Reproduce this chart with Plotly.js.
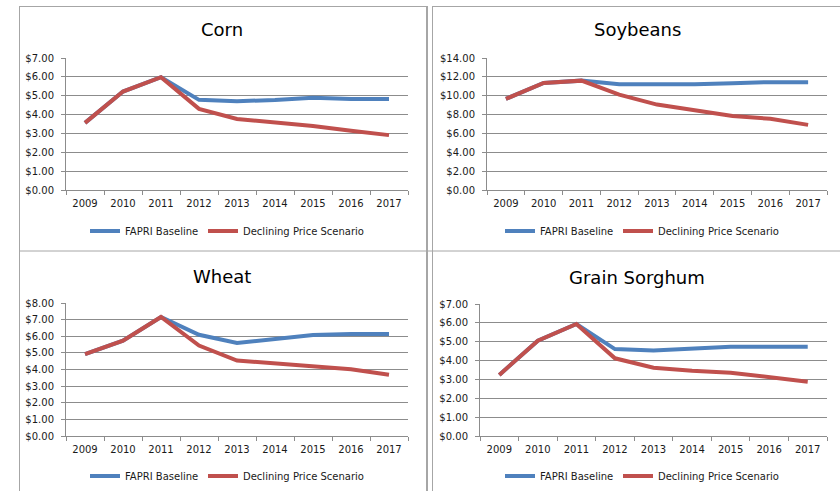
<!DOCTYPE html>
<html>
<head>
<meta charset="utf-8">
<script src="https://cdn.plot.ly/plotly-3.0.1.min.js"></script>
<style>
  html, body { margin: 0; padding: 0; background: #ffffff; }
  #chart { width: 840px; height: 491px; }
</style>
</head>
<body>
<div id="chart"></div>
<script>
// Crop price projections, 2009-2017 ($ per bushel)
const years = ['2009', '2010', '2011', '2012', '2013', '2014', '2015', '2016', '2017'];

const cornBaseline     = [3.56, 5.22, 5.98, 4.78, 4.71, 4.77, 4.89, 4.83, 4.83];
const cornDeclining    = [3.56, 5.22, 5.98, 4.30, 3.77, 3.58, 3.39, 3.14, 2.91];

const soyBaseline      = [9.66, 11.35, 11.60, 11.22, 11.22, 11.22, 11.33, 11.44, 11.44];
const soyDeclining     = [9.66, 11.35, 11.60, 10.12, 9.06, 8.46, 7.86, 7.55, 6.91];

const wheatBaseline    = [4.92, 5.73, 7.16, 6.09, 5.60, 5.83, 6.07, 6.13, 6.13];
const wheatDeclining   = [4.92, 5.73, 7.16, 5.44, 4.54, 4.35, 4.19, 4.01, 3.69];

const sorghumBaseline  = [3.24, 5.05, 5.94, 4.61, 4.54, 4.61, 4.73, 4.73, 4.73];
const sorghumDeclining = [3.24, 5.05, 5.94, 4.12, 3.62, 3.46, 3.36, 3.10, 2.88];

const panelTitles = ['Corn', 'Soybeans', 'Wheat', 'Grain Sorghum'];
const seriesNames = ['FAPRI Baseline', 'Declining Price Scenario'];

const W = 840, H = 491;
const px = x => x / W;
const py = y => 1 - y / H;

const BLUE = '#4f81bd';
const RED = '#c0504d';
const GRID = '#8c8c8c';
const FRAME = '#a6a6a6';
const FONT = 'DejaVu Sans, Verdana, sans-serif';

// panel geometry in pixels: plot box and legend/title anchors
const panels = [
  { base: cornBaseline,    decl: cornDeclining,    ymax: 7,  dtick: 1, box: [66, 408, 58, 190],  title: [222, 30],  legend: [85, 231] },
  { base: soyBaseline,     decl: soyDeclining,     ymax: 14, dtick: 2, box: [487, 827, 58, 190], title: [637, 30],  legend: [500, 231] },
  { base: wheatBaseline,   decl: wheatDeclining,   ymax: 8,  dtick: 1, box: [66, 408, 303, 436], title: [222, 276], legend: [85, 476] },
  { base: sorghumBaseline, decl: sorghumDeclining, ymax: 7,  dtick: 1, box: [480, 827, 304, 436], title: [637, 277], legend: [500, 476] }
];
const legendStep = 118;   // horizontal distance between the two legend entries

const traces = [];
const layout = {
  width: W, height: H,
  margin: { l: 0, r: 0, t: 0, b: 0 },
  paper_bgcolor: '#ffffff',
  plot_bgcolor: '#ffffff',
  font: { family: FONT, color: '#1a1a1a', size: 10 },
  showlegend: true,
  annotations: [],
  shapes: []
};

const legendBox = (x, y) => ({
  visible: true,
  orientation: 'h',
  x: px(x), xanchor: 'left',
  y: py(y), yanchor: 'middle',
  bgcolor: 'rgba(0,0,0,0)',
  font: { family: FONT, size: 10, color: '#1a1a1a' },
  itemwidth: 30
});

panels.forEach((p, i) => {
  const n = i + 1;
  const xa = 'x' + (n === 1 ? '' : n);
  const ya = 'y' + (n === 1 ? '' : n);
  const lgBase = i === 0 ? 'legend' : 'legend' + (2 * i + 1);
  const lgDecl = 'legend' + (2 * i + 2);

  traces.push({
    type: 'scatter', mode: 'lines', x: years, y: p.base,
    name: seriesNames[0], xaxis: xa, yaxis: ya, legend: lgBase, showlegend: true,
    line: { color: BLUE, width: 4 }, hoverinfo: 'x+y+name'
  });
  traces.push({
    type: 'scatter', mode: 'lines', x: years, y: p.decl,
    name: seriesNames[1], xaxis: xa, yaxis: ya, legend: lgDecl, showlegend: true,
    line: { color: RED, width: 4 }, hoverinfo: 'x+y+name'
  });

  const [x0, x1, y0, y1] = p.box;
  layout['xaxis' + (n === 1 ? '' : n)] = {
    domain: [px(x0), px(x1)],
    anchor: ya,
    type: 'category',
    range: [-0.5, years.length - 0.5],
    showgrid: false, zeroline: false,
    showline: true, linecolor: GRID, linewidth: 1,
    ticks: 'outside', tickson: 'boundaries', ticklen: 4, tickcolor: GRID,
    ticklabelstandoff: 4,
    tickfont: { family: FONT, size: 10, color: '#1a1a1a' },
    fixedrange: true
  };
  layout['yaxis' + (n === 1 ? '' : n)] = {
    domain: [py(y1), py(y0)],
    anchor: xa,
    range: [0, p.ymax],
    dtick: p.dtick, tick0: 0,
    tickprefix: '$', tickformat: '.2f',
    showgrid: true, gridcolor: GRID, gridwidth: 1,
    zeroline: false,
    showline: true, linecolor: GRID, linewidth: 1,
    ticks: 'outside', ticklen: 4, tickcolor: GRID,
    ticklabelstandoff: 5,
    tickfont: { family: FONT, size: 10, color: '#1a1a1a' },
    fixedrange: true
  };

  layout[lgBase] = legendBox(p.legend[0], p.legend[1]);
  layout[lgDecl] = legendBox(p.legend[0] + legendStep, p.legend[1]);

  layout.annotations.push({
    text: panelTitles[i],
    xref: 'paper', yref: 'paper',
    x: px(p.title[0]), y: py(p.title[1]),
    xanchor: 'center', yanchor: 'middle',
    showarrow: false,
    font: { family: FONT, size: 18, color: '#000000' }
  });
});

// chart frames of the 2x2 grid
const frame = (xa, ya, xb, yb, w) => ({
  type: 'line', xref: 'paper', yref: 'paper',
  x0: px(xa), y0: py(ya), x1: px(xb), y1: py(yb),
  line: { color: FRAME, width: w }
});
layout.shapes.push(
  frame(19, 6.5, 427, 6.5, 1),
  frame(432, 6.5, 840, 6.5, 1),
  frame(19, 251, 840, 251, 1),
  frame(19.5, 6, 19.5, 491, 1),
  frame(427, 6, 427, 491, 2),
  frame(432.5, 6, 432.5, 491, 1)
);

Plotly.newPlot('chart', traces, layout, { displayModeBar: false, staticPlot: true });
</script>
</body>
</html>
